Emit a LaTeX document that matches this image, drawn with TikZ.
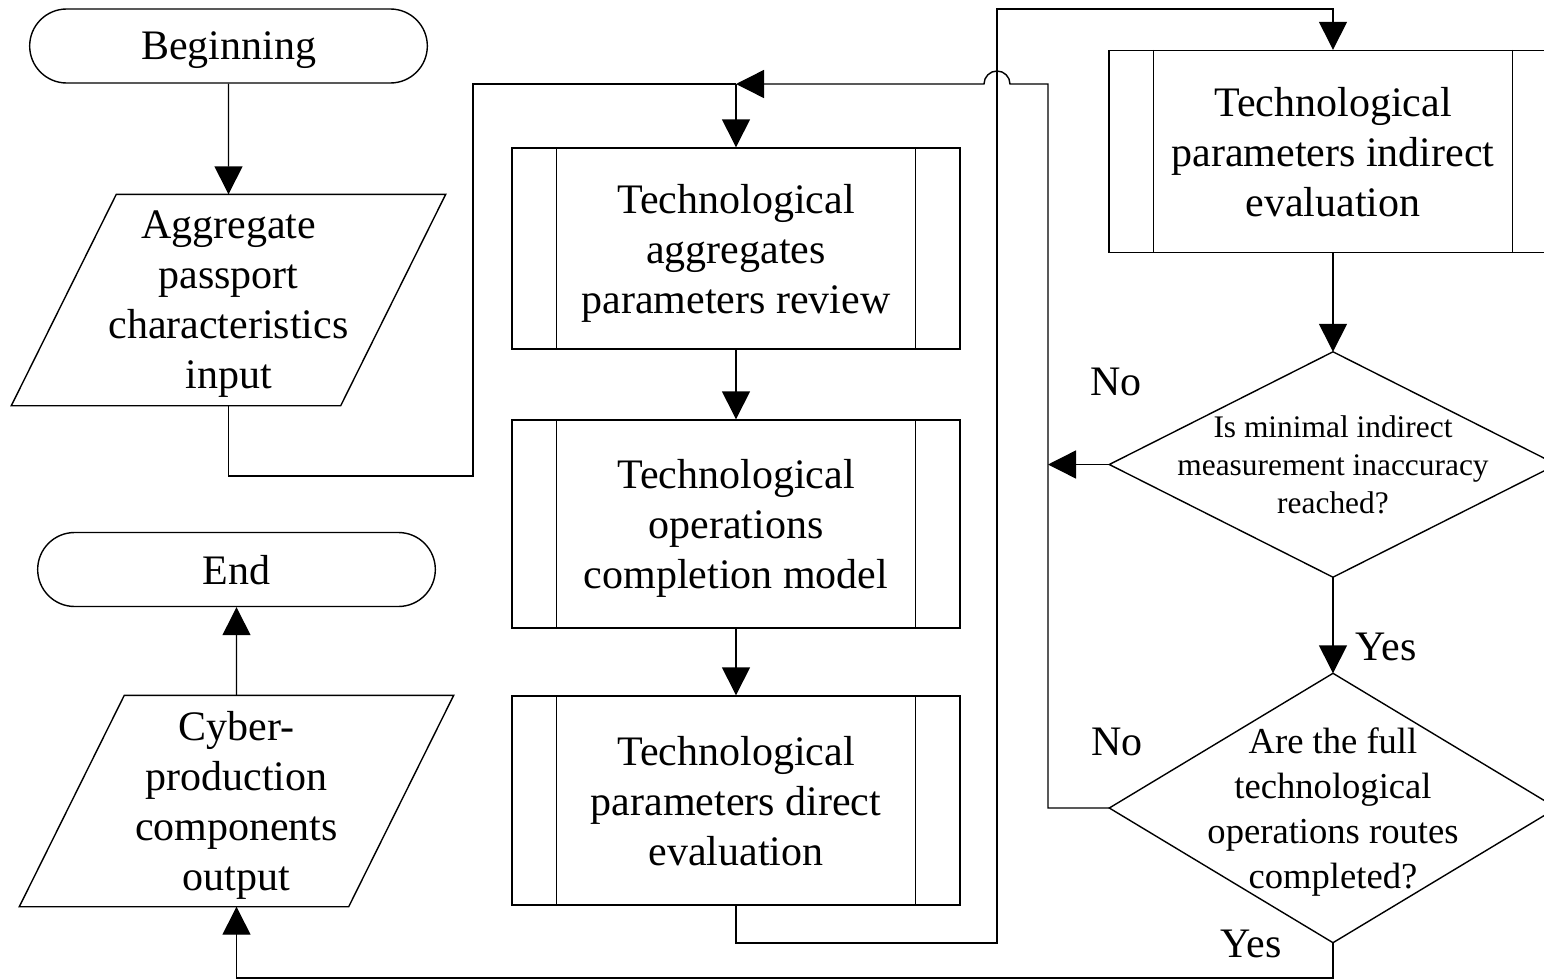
\documentclass[tikz,border=0pt]{standalone}
\usepackage{fontspec}
\setmainfont{Liberation Serif}
\usepackage{tikz}
\usetikzlibrary{arrows.meta,shapes.misc}
\newcommand{\chartUnit}[0]{0.5pt}
\newcommand{\ioOutline}[1]{\draw (#1.south west) -- ([xshift=-52.5pt]#1.south east) -- (#1.north east) -- ([xshift=52.5pt]#1.north west) -- cycle;}
\newcommand{\procBars}[1]{\draw ([xshift=22.5pt]#1.north west) -- ([xshift=22.5pt]#1.south west) ([xshift=-22.5pt]#1.north east) -- ([xshift=-22.5pt]#1.south east);}
\newcommand{\condOutline}[1]{\draw (#1.north) -- (#1.east) -- (#1.south) -- (#1.west) -- cycle;}

\begin{document}
\begin{tikzpicture}[x=\chartUnit, y=-\chartUnit, line width=0.7pt]
  \tikzset{every node/.style={align=center,text depth=0pt,font=\fontsize{21pt}{25pt}\selectfont},
    terminal/.style={draw,rounded rectangle,minimum width=205.5pt,minimum height=37pt},
    iobox/.style={minimum width=216.5pt,minimum height=105pt,inner sep=0pt},
    procbox/.style={draw,minimum width=224pt,inner sep=0pt},
    condbox/.style={minimum width=223pt,inner sep=0pt},
    answer/.style={anchor=base},
    flow/.style={-{Triangle[length=14pt,width=14pt]}}}
  \useasboundingbox (0,0) rectangle (1544,980);
  \clip (0,0) rectangle (1544,980);

  \node[terminal] (start) at (228.5,46) {Beginning};
  \node[iobox] (input-1) at (228.5,300) {Aggregate\\passport\\characteristics\\input};
  \node[procbox,minimum height=100.5pt] (proc-1) at (736,248.5) {Technological\\aggregates\\parameters review};
  \node[procbox,minimum height=104pt] (proc-2) at (736,524) {Technological\\operations\\completion model};
  \node[procbox,minimum height=104.5pt] (proc-3) at (736,800.5) {Technological\\parameters direct\\evaluation};
  \node[procbox,minimum height=101pt] (proc-4) at (1333,151.5) {Technological\\parameters indirect\\evaluation};
  \node[condbox,minimum height=112pt,font=\fontsize{15.7pt}{19pt}\selectfont] (cond-1) at (1333,464.5) {Is minimal indirect\\measurement inaccuracy\\reached?};
  \node[condbox,minimum height=134pt,font=\fontsize{18.3pt}{22.5pt}\selectfont] (cond-2) at (1333,808) {Are the full\\technological\\operations routes\\completed?};
  \node[terminal] (finish) at (236.5,569.5) {End};
  \node[iobox] (output-1) at (236.5,801) {Cyber-\\production\\components\\output};
  \ioOutline{input-1}
  \ioOutline{output-1}
  \procBars{proc-1}
  \procBars{proc-2}
  \procBars{proc-3}
  \procBars{proc-4}
  \condOutline{cond-1}
  \condOutline{cond-2}

  \node[answer] (no-1) at (1116,395) {No};
  \node[answer] (yes-1) at (1386,660) {Yes};
  \node[answer] (no-2) at (1117,755) {No};
  \node[answer] (yes-2) at (1251,957) {Yes};

  \coordinate (bend-1) at (473,476);
  \coordinate (join-1) at (736,84);
  \coordinate (loop-1) at (997,943);
  \coordinate (loop-2) at (997,9);
  \coordinate (back-1) at (1048,464.5);
  \coordinate (back-top) at (1048,84);
  \coordinate (hop-1) at (1010,84);
  \coordinate (bottom-1) at (1333,978);

  \draw[flow] (start) -- (input-1);
  \draw (input-1.south) |- (bend-1) -- (bend-1 |- join-1) -- (join-1);
  \draw[flow] (join-1) -- (proc-1);
  \draw[flow] (proc-1) -- (proc-2);
  \draw[flow] (proc-2) -- (proc-3);
  \draw[flow] (proc-3.south) |- (loop-1) -- (loop-2) -| (proc-4.north);
  \draw[flow] (proc-4) -- (cond-1);
  \draw[flow] (cond-1.west) -- (back-1);
  \draw[flow] (cond-1) -- (cond-2);
  \draw[flow] (cond-2.west) -| (back-top) -- (hop-1) arc[start angle=0,end angle=180,radius=6.5pt] -- (join-1);
  \draw[flow] (cond-2.south) -- (bottom-1) -| (output-1.south);
  \draw[flow] (output-1) -- (finish);
\end{tikzpicture}
\end{document}
